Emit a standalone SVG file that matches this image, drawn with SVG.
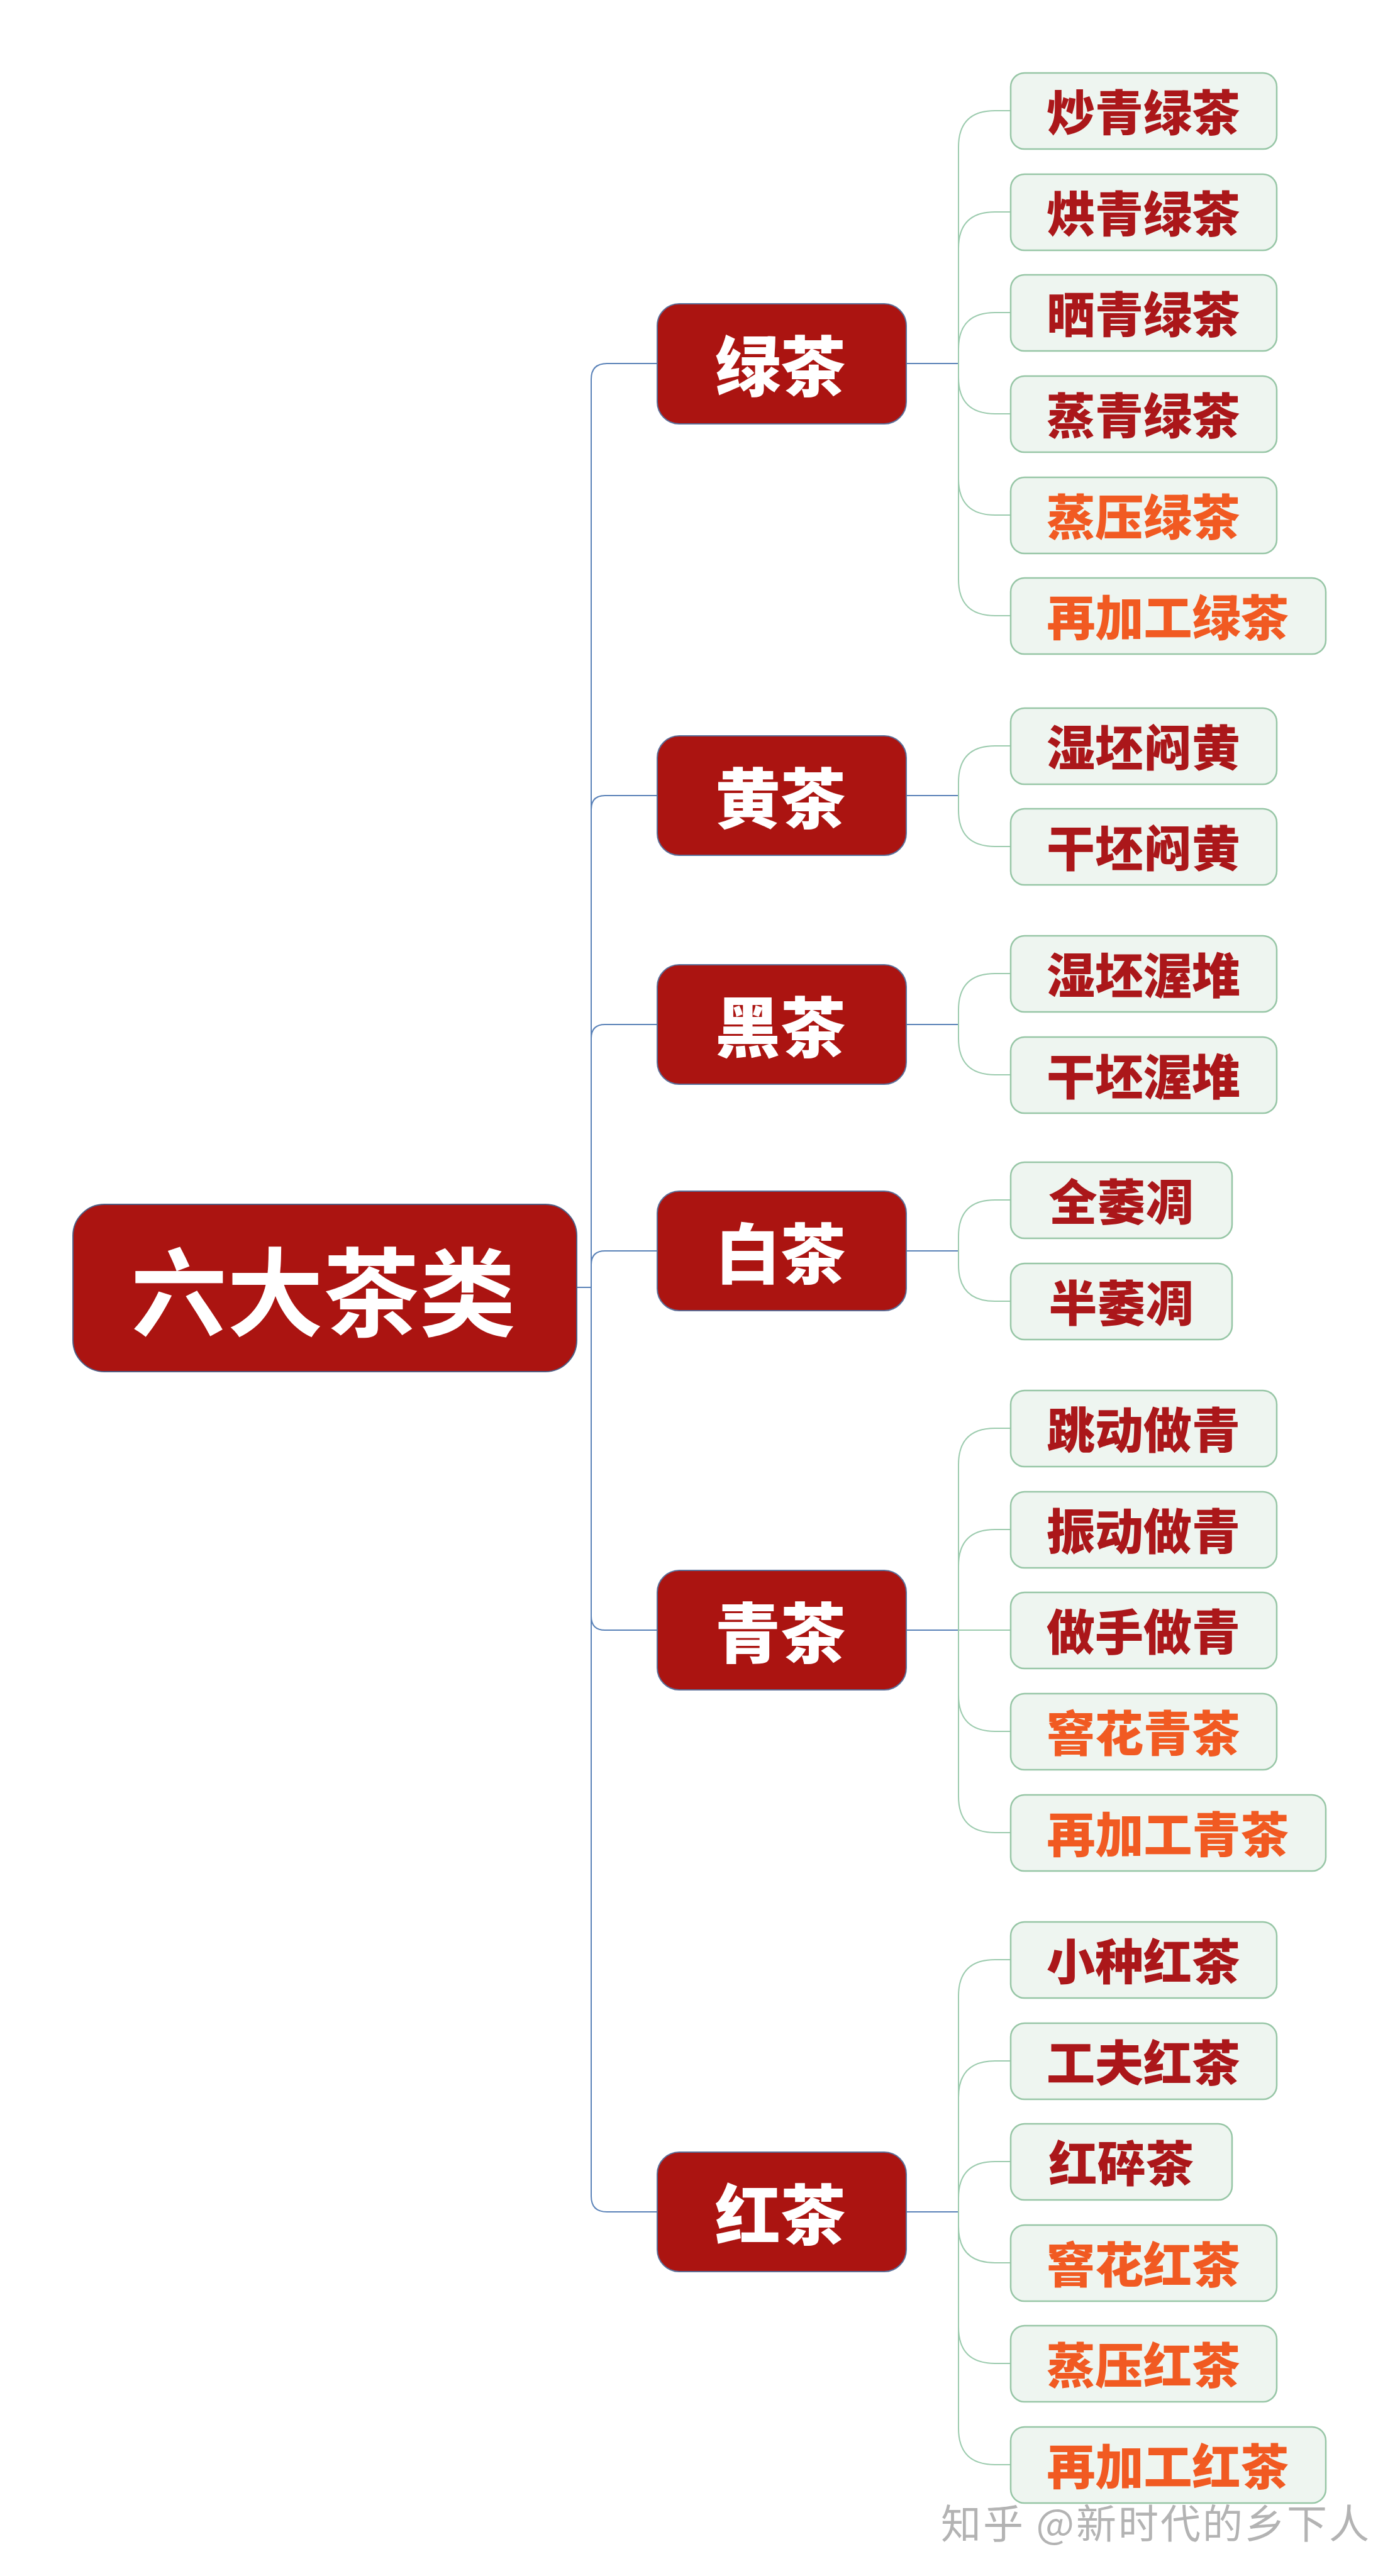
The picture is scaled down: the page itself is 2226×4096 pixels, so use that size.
<svg xmlns="http://www.w3.org/2000/svg" width="2226" height="4096" viewBox="0 0 2226 4096">
<style>
.root rect{fill:#ab1411;stroke:#4d5f86;stroke-width:2}
.cat rect{fill:#ab1411;stroke:#5a6f99;stroke-width:2}
.leaf rect{fill:#eef5f0;stroke:#97c6a6;stroke-width:2.5}
text{font-family:"Noto Sans CJK SC","Noto Sans CJK JP",sans-serif;text-anchor:middle}
.rt{font-size:153px;font-weight:700;fill:#ffffff}
.ct{font-size:104px;font-weight:900;fill:#ffffff}
.lt{font-size:77px;font-weight:900;fill:#ab171a}
.lo{font-size:77px;font-weight:900;fill:#f15a22}
.wm{font-size:64px;font-weight:400;fill:#b3b3b3;letter-spacing:3px}
.blue{fill:none;stroke:#5a82b8;stroke-width:2}
.green{fill:none;stroke:#9ccbae;stroke-width:2}
</style>
<rect width="2226" height="4096" fill="#ffffff"/>
<g id="connectors">
<path class="blue" d="M917 2047 L940 2047"/>
<path class="blue" d="M1045 578 L965 578 Q940 578 940 603 L940 3492 Q940 3517 965 3517 L1045 3517"/>
<path class="blue" d="M1045 1265 L962 1265 Q940 1265 940 1287"/>
<path class="blue" d="M1045 1629 L962 1629 Q940 1629 940 1651"/>
<path class="blue" d="M1045 1989 L962 1989 Q940 1989 940 2011"/>
<path class="blue" d="M1045 2592 L962 2592 Q940 2592 940 2570"/>
<path class="blue" d="M1441 578 L1524 578"/>
<path class="blue" d="M1441 1265 L1524 1265"/>
<path class="blue" d="M1441 1629 L1524 1629"/>
<path class="blue" d="M1441 1989 L1524 1989"/>
<path class="blue" d="M1441 2592 L1524 2592"/>
<path class="blue" d="M1441 3517 L1524 3517"/>
<path class="green" d="M1607 176 L1582 176 Q1524 176 1524 234 L1524 921 Q1524 979 1582 979 L1607 979"/>
<path class="green" d="M1607 337 L1582 337 Q1524 337 1524 395"/>
<path class="green" d="M1607 497 L1582 497 Q1524 497 1524 555"/>
<path class="green" d="M1607 658 L1582 658 Q1524 658 1524 600"/>
<path class="green" d="M1607 819 L1582 819 Q1524 819 1524 761"/>
<path class="green" d="M1607 1186 L1582 1186 Q1524 1186 1524 1244 L1524 1288 Q1524 1346 1582 1346 L1607 1346"/>
<path class="green" d="M1607 1548 L1582 1548 Q1524 1548 1524 1606 L1524 1651 Q1524 1709 1582 1709 L1607 1709"/>
<path class="green" d="M1607 1908 L1582 1908 Q1524 1908 1524 1966 L1524 2011 Q1524 2069 1582 2069 L1607 2069"/>
<path class="green" d="M1607 2271 L1582 2271 Q1524 2271 1524 2329 L1524 2856 Q1524 2914 1582 2914 L1607 2914"/>
<path class="green" d="M1607 2432 L1582 2432 Q1524 2432 1524 2490"/>
<path class="green" d="M1524 2592 L1607 2592"/>
<path class="green" d="M1607 2753 L1582 2753 Q1524 2753 1524 2695"/>
<path class="green" d="M1607 3116 L1582 3116 Q1524 3116 1524 3174 L1524 3861 Q1524 3919 1582 3919 L1607 3919"/>
<path class="green" d="M1607 3277 L1582 3277 Q1524 3277 1524 3335"/>
<path class="green" d="M1607 3437 L1582 3437 Q1524 3437 1524 3495"/>
<path class="green" d="M1607 3598 L1582 3598 Q1524 3598 1524 3540"/>
<path class="green" d="M1607 3758 L1582 3758 Q1524 3758 1524 3700"/>
</g>
<g id="root" class="root"><rect x="116" y="1915" width="801" height="266" rx="50"/><text class="rt" x="514" y="2113">六大茶类</text></g>
<g id="cat-lvcha" class="cat"><rect x="1045" y="483" width="396" height="191" rx="35"/><text class="ct" x="1241" y="622">绿茶</text></g>
<g id="cat-huangcha" class="cat"><rect x="1045" y="1170" width="396" height="190" rx="35"/><text class="ct" x="1241" y="1309">黄茶</text></g>
<g id="cat-heicha" class="cat"><rect x="1045" y="1534" width="396" height="190" rx="35"/><text class="ct" x="1241" y="1673">黑茶</text></g>
<g id="cat-baicha" class="cat"><rect x="1045" y="1894" width="396" height="190" rx="35"/><text class="ct" x="1241" y="2033">白茶</text></g>
<g id="cat-qingcha" class="cat"><rect x="1045" y="2497" width="396" height="190" rx="35"/><text class="ct" x="1241" y="2636">青茶</text></g>
<g id="cat-hongcha" class="cat"><rect x="1045" y="3422" width="396" height="190" rx="35"/><text class="ct" x="1241" y="3561">红茶</text></g>
<g id="leaf-1" class="leaf"><rect x="1607" y="116" width="423" height="121" rx="22"/><text class="lt" x="1818" y="208">炒青绿茶</text></g>
<g id="leaf-2" class="leaf"><rect x="1607" y="277" width="423" height="121" rx="22"/><text class="lt" x="1818" y="369">烘青绿茶</text></g>
<g id="leaf-3" class="leaf"><rect x="1607" y="437" width="423" height="121" rx="22"/><text class="lt" x="1818" y="529">晒青绿茶</text></g>
<g id="leaf-4" class="leaf"><rect x="1607" y="598" width="423" height="121" rx="22"/><text class="lt" x="1818" y="690">蒸青绿茶</text></g>
<g id="leaf-5" class="leaf"><rect x="1607" y="759" width="423" height="121" rx="22"/><text class="lo" x="1818" y="851">蒸压绿茶</text></g>
<g id="leaf-6" class="leaf"><rect x="1607" y="919" width="501" height="121" rx="22"/><text class="lo" x="1857" y="1011">再加工绿茶</text></g>
<g id="leaf-7" class="leaf"><rect x="1607" y="1126" width="423" height="121" rx="22"/><text class="lt" x="1818" y="1218">湿坯闷黄</text></g>
<g id="leaf-8" class="leaf"><rect x="1607" y="1286" width="423" height="121" rx="22"/><text class="lt" x="1818" y="1378">干坯闷黄</text></g>
<g id="leaf-9" class="leaf"><rect x="1607" y="1488" width="423" height="121" rx="22"/><text class="lt" x="1818" y="1580">湿坯渥堆</text></g>
<g id="leaf-10" class="leaf"><rect x="1607" y="1649" width="423" height="121" rx="22"/><text class="lt" x="1818" y="1741">干坯渥堆</text></g>
<g id="leaf-11" class="leaf"><rect x="1607" y="1848" width="352" height="121" rx="22"/><text class="lt" x="1783" y="1940">全萎凋</text></g>
<g id="leaf-12" class="leaf"><rect x="1607" y="2009" width="352" height="121" rx="22"/><text class="lt" x="1783" y="2101">半萎凋</text></g>
<g id="leaf-13" class="leaf"><rect x="1607" y="2211" width="423" height="121" rx="22"/><text class="lt" x="1818" y="2303">跳动做青</text></g>
<g id="leaf-14" class="leaf"><rect x="1607" y="2372" width="423" height="121" rx="22"/><text class="lt" x="1818" y="2464">振动做青</text></g>
<g id="leaf-15" class="leaf"><rect x="1607" y="2532" width="423" height="121" rx="22"/><text class="lt" x="1818" y="2624">做手做青</text></g>
<g id="leaf-16" class="leaf"><rect x="1607" y="2693" width="423" height="121" rx="22"/><text class="lo" x="1818" y="2785">窨花青茶</text></g>
<g id="leaf-17" class="leaf"><rect x="1607" y="2854" width="501" height="121" rx="22"/><text class="lo" x="1857" y="2946">再加工青茶</text></g>
<g id="leaf-18" class="leaf"><rect x="1607" y="3056" width="423" height="121" rx="22"/><text class="lt" x="1818" y="3148">小种红茶</text></g>
<g id="leaf-19" class="leaf"><rect x="1607" y="3217" width="423" height="121" rx="22"/><text class="lt" x="1818" y="3309">工夫红茶</text></g>
<g id="leaf-20" class="leaf"><rect x="1607" y="3377" width="352" height="121" rx="22"/><text class="lt" x="1783" y="3469">红碎茶</text></g>
<g id="leaf-21" class="leaf"><rect x="1607" y="3538" width="423" height="121" rx="22"/><text class="lo" x="1818" y="3630">窨花红茶</text></g>
<g id="leaf-22" class="leaf"><rect x="1607" y="3698" width="423" height="121" rx="22"/><text class="lo" x="1818" y="3790">蒸压红茶</text></g>
<g id="leaf-23" class="leaf"><rect x="1607" y="3859" width="501" height="121" rx="22"/><text class="lo" x="1857" y="3951">再加工红茶</text></g>
<text class="wm" x="1838" y="4036">知乎 @新时代的乡下人</text>
</svg>
